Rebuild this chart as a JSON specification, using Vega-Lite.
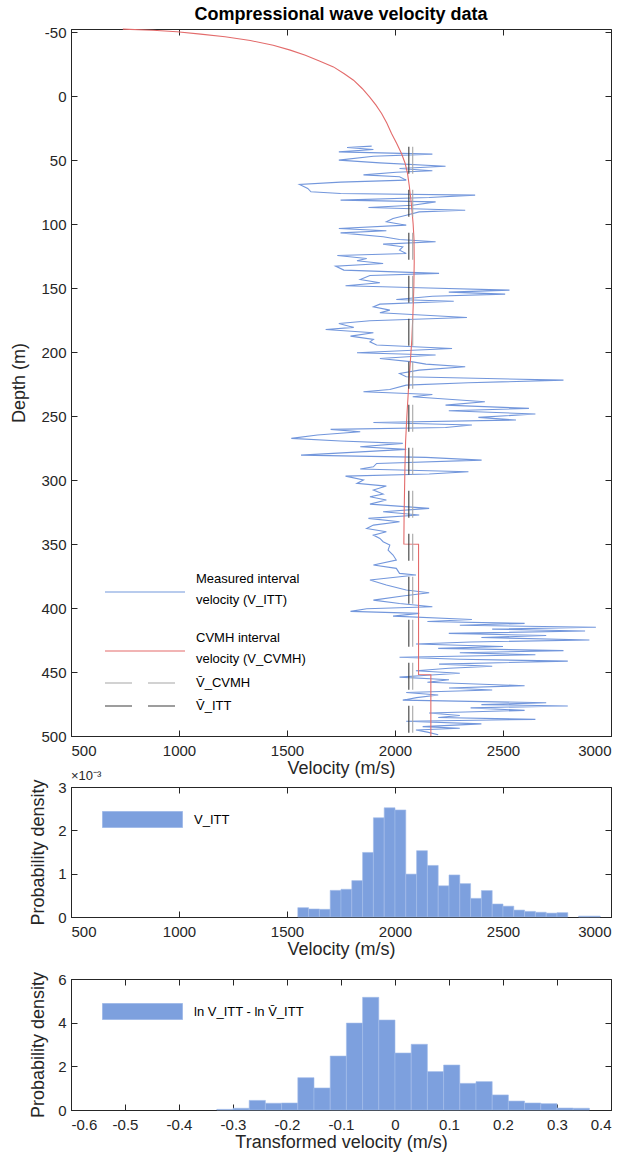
{
  "$schema": "https://vega.github.io/schema/vega-lite/v6.json",
  "padding": {"left": 10, "top": 5, "right": 5, "bottom": 5},
  "background": "white",
  "config": {
    "font": "Liberation Sans",
    "view": {"stroke": "#262626", "strokeWidth": 1},
    "axis": {"grid": false, "domainColor": "#262626", "tickColor": "#262626", "labelColor": "#262626", "titleColor": "#262626", "labelFontSize": 15, "titleFontSize": 18, "titleFontWeight": "normal", "tickSize": -6, "labelFont": "Liberation Sans", "titleFont": "Liberation Sans"},
    "axisX": {"labelPadding": 13, "titlePadding": 1},
    "axisY": {"labelPadding": 11, "titlePadding": 10},
    "legend": {"labelFont": "Liberation Sans", "labelColor": "#000", "labelFontSize": 13, "padding": 0},
    "title": {"font": "Liberation Sans"}
  },
  "datasets": {
    "profile": [
      {"series":"ITT","depth":39.0,"velocity":1892},{"series":"ITT","depth":40.1,"velocity":1778},{"series":"ITT","depth":41.7,"velocity":1900},{"series":"ITT","depth":43.5,"velocity":1740},{"series":"ITT","depth":45.3,"velocity":2173},{"series":"ITT","depth":46.9,"velocity":1900},{"series":"ITT","depth":50.0,"velocity":1740},{"series":"ITT","depth":52.1,"velocity":1930},{"series":"ITT","depth":54.7,"velocity":2234},{"series":"ITT","depth":56.5,"velocity":2021},{"series":"ITT","depth":58.3,"velocity":2173},{"series":"ITT","depth":59.4,"velocity":2006},{"series":"ITT","depth":61.5,"velocity":1854},{"series":"ITT","depth":63.0,"velocity":2021},{"series":"ITT","depth":65.6,"velocity":2052},{"series":"ITT","depth":67.2,"velocity":1748},{"series":"ITT","depth":69.0,"velocity":1558},{"series":"ITT","depth":72.1,"velocity":1596},{"series":"ITT","depth":74.7,"velocity":1611},{"series":"ITT","depth":76.0,"velocity":1748},{"series":"ITT","depth":77.3,"velocity":2371},{"series":"ITT","depth":79.2,"velocity":2158},{"series":"ITT","depth":81.2,"velocity":1748},{"series":"ITT","depth":82.6,"velocity":2188},{"series":"ITT","depth":85.2,"velocity":2082},{"series":"ITT","depth":87.0,"velocity":1877},{"series":"ITT","depth":89.1,"velocity":2325},{"series":"ITT","depth":90.4,"velocity":2112},{"series":"ITT","depth":93.0,"velocity":2052},{"series":"ITT","depth":95.6,"velocity":1991},{"series":"ITT","depth":98.2,"velocity":1960},{"series":"ITT","depth":100.8,"velocity":2052},{"series":"ITT","depth":103.4,"velocity":1740},{"series":"ITT","depth":105.2,"velocity":1960},{"series":"ITT","depth":106.8,"velocity":1748},{"series":"ITT","depth":109.9,"velocity":1945},{"series":"ITT","depth":112.0,"velocity":2021},{"series":"ITT","depth":113.8,"velocity":2188},{"series":"ITT","depth":115.6,"velocity":1945},{"series":"ITT","depth":117.7,"velocity":2036},{"series":"ITT","depth":120.3,"velocity":2021},{"series":"ITT","depth":122.9,"velocity":2052},{"series":"ITT","depth":124.5,"velocity":1733},{"series":"ITT","depth":126.8,"velocity":1869},{"series":"ITT","depth":128.6,"velocity":1824},{"series":"ITT","depth":130.7,"velocity":1945},{"series":"ITT","depth":132.8,"velocity":1725},{"series":"ITT","depth":135.9,"velocity":1763},{"series":"ITT","depth":138.5,"velocity":2204},{"series":"ITT","depth":140.1,"velocity":1884},{"series":"ITT","depth":143.2,"velocity":1839},{"series":"ITT","depth":145.8,"velocity":1930},{"series":"ITT","depth":148.2,"velocity":1771},{"series":"ITT","depth":149.7,"velocity":2112},{"series":"ITT","depth":151.6,"velocity":2530},{"series":"ITT","depth":153.1,"velocity":2249},{"series":"ITT","depth":154.7,"velocity":2510},{"series":"ITT","depth":156.3,"velocity":2173},{"series":"ITT","depth":158.9,"velocity":2006},{"series":"ITT","depth":160.2,"velocity":2272},{"series":"ITT","depth":162.5,"velocity":1930},{"series":"ITT","depth":164.6,"velocity":1900},{"series":"ITT","depth":167.2,"velocity":1976},{"series":"ITT","depth":169.3,"velocity":1930},{"series":"ITT","depth":172.9,"velocity":2333},{"series":"ITT","depth":175.5,"velocity":1884},{"series":"ITT","depth":177.6,"velocity":1740},{"series":"ITT","depth":180.7,"velocity":1809},{"series":"ITT","depth":182.3,"velocity":1679},{"series":"ITT","depth":184.9,"velocity":1900},{"series":"ITT","depth":187.5,"velocity":1794},{"series":"ITT","depth":190.1,"velocity":1900},{"series":"ITT","depth":192.0,"velocity":1884},{"series":"ITT","depth":194.5,"velocity":1915},{"series":"ITT","depth":197.2,"velocity":2264},{"series":"ITT","depth":200.5,"velocity":1824},{"series":"ITT","depth":202.3,"velocity":2188},{"series":"ITT","depth":205.0,"velocity":1930},{"series":"ITT","depth":207.6,"velocity":2082},{"series":"ITT","depth":209.4,"velocity":2143},{"series":"ITT","depth":211.5,"velocity":2325},{"series":"ITT","depth":214.1,"velocity":2112},{"series":"ITT","depth":216.7,"velocity":2021},{"series":"ITT","depth":219.3,"velocity":2052},{"series":"ITT","depth":221.9,"velocity":2780},{"series":"ITT","depth":224.0,"velocity":2340},{"series":"ITT","depth":225.8,"velocity":2052},{"series":"ITT","depth":229.2,"velocity":1976},{"series":"ITT","depth":231.0,"velocity":1854},{"series":"ITT","depth":233.1,"velocity":2173},{"series":"ITT","depth":234.9,"velocity":2082},{"series":"ITT","depth":238.8,"velocity":2416},{"series":"ITT","depth":241.4,"velocity":2234},{"series":"ITT","depth":244.0,"velocity":2620},{"series":"ITT","depth":245.8,"velocity":2249},{"series":"ITT","depth":248.4,"velocity":2650},{"series":"ITT","depth":251.0,"velocity":2386},{"series":"ITT","depth":253.1,"velocity":2560},{"series":"ITT","depth":255.0,"velocity":1900},{"series":"ITT","depth":257.0,"velocity":2356},{"series":"ITT","depth":258.9,"velocity":2234},{"series":"ITT","depth":260.4,"velocity":1702},{"series":"ITT","depth":262.2,"velocity":1839},{"series":"ITT","depth":264.8,"velocity":1641},{"series":"ITT","depth":267.4,"velocity":1520},{"series":"ITT","depth":269.5,"velocity":1748},{"series":"ITT","depth":271.3,"velocity":2036},{"series":"ITT","depth":274.0,"velocity":1839},{"series":"ITT","depth":276.0,"velocity":2052},{"series":"ITT","depth":280.5,"velocity":1565},{"series":"ITT","depth":282.3,"velocity":2143},{"series":"ITT","depth":284.4,"velocity":2401},{"series":"ITT","depth":287.0,"velocity":1915},{"series":"ITT","depth":289.6,"velocity":1900},{"series":"ITT","depth":291.4,"velocity":1839},{"series":"ITT","depth":293.5,"velocity":2340},{"series":"ITT","depth":295.3,"velocity":2158},{"series":"ITT","depth":296.9,"velocity":1771},{"series":"ITT","depth":300.0,"velocity":1854},{"series":"ITT","depth":302.6,"velocity":1824},{"series":"ITT","depth":304.7,"velocity":1960},{"series":"ITT","depth":307.8,"velocity":1900},{"series":"ITT","depth":310.9,"velocity":1945},{"series":"ITT","depth":313.0,"velocity":1884},{"series":"ITT","depth":315.6,"velocity":1960},{"series":"ITT","depth":318.8,"velocity":1884},{"series":"ITT","depth":322.1,"velocity":2158},{"series":"ITT","depth":324.7,"velocity":1945},{"series":"ITT","depth":327.3,"velocity":2112},{"series":"ITT","depth":329.9,"velocity":1877},{"series":"ITT","depth":332.6,"velocity":2021},{"series":"ITT","depth":335.2,"velocity":1900},{"series":"ITT","depth":337.8,"velocity":1869},{"series":"ITT","depth":340.4,"velocity":1960},{"series":"ITT","depth":343.0,"velocity":1900},{"series":"ITT","depth":345.6,"velocity":1930},{"series":"ITT","depth":348.2,"velocity":1945},{"series":"ITT","depth":350.8,"velocity":1976},{"series":"ITT","depth":354.7,"velocity":1968},{"series":"ITT","depth":358.6,"velocity":1991},{"series":"ITT","depth":362.5,"velocity":2006},{"series":"ITT","depth":366.4,"velocity":1900},{"series":"ITT","depth":369.0,"velocity":2006},{"series":"ITT","depth":372.9,"velocity":2021},{"series":"ITT","depth":374.2,"velocity":2097},{"series":"ITT","depth":378.1,"velocity":1884},{"series":"ITT","depth":382.0,"velocity":1960},{"series":"ITT","depth":385.9,"velocity":2052},{"series":"ITT","depth":388.0,"velocity":2158},{"series":"ITT","depth":390.6,"velocity":2036},{"series":"ITT","depth":393.8,"velocity":1900},{"series":"ITT","depth":396.4,"velocity":2021},{"series":"ITT","depth":399.0,"velocity":2173},{"series":"ITT","depth":400.5,"velocity":1869},{"series":"ITT","depth":402.6,"velocity":1794},{"series":"ITT","depth":404.2,"velocity":2112},{"series":"ITT","depth":406.3,"velocity":1991},{"series":"ITT","depth":408.9,"velocity":2356},{"series":"ITT","depth":410.5,"velocity":2150},{"series":"ITT","depth":412.0,"velocity":2600},{"series":"ITT","depth":413.5,"velocity":2300},{"series":"ITT","depth":415.0,"velocity":2930},{"series":"ITT","depth":416.5,"velocity":2450},{"series":"ITT","depth":418.0,"velocity":2880},{"series":"ITT","depth":419.8,"velocity":2249},{"series":"ITT","depth":421.5,"velocity":2700},{"series":"ITT","depth":423.0,"velocity":2400},{"series":"ITT","depth":425.0,"velocity":2900},{"series":"ITT","depth":426.5,"velocity":2350},{"series":"ITT","depth":428.1,"velocity":2097},{"series":"ITT","depth":430.0,"velocity":2500},{"series":"ITT","depth":431.5,"velocity":2200},{"series":"ITT","depth":433.3,"velocity":2780},{"series":"ITT","depth":435.0,"velocity":2300},{"series":"ITT","depth":436.5,"velocity":2650},{"series":"ITT","depth":438.5,"velocity":2021},{"series":"ITT","depth":440.0,"velocity":2300},{"series":"ITT","depth":441.5,"velocity":2800},{"series":"ITT","depth":443.8,"velocity":2204},{"series":"ITT","depth":445.5,"velocity":2450},{"series":"ITT","depth":447.0,"velocity":2250},{"series":"ITT","depth":449.0,"velocity":2097},{"series":"ITT","depth":451.0,"velocity":2300},{"series":"ITT","depth":452.5,"velocity":2150},{"series":"ITT","depth":454.0,"velocity":2021},{"series":"ITT","depth":456.0,"velocity":2250},{"series":"ITT","depth":458.0,"velocity":2150},{"series":"ITT","depth":460.7,"velocity":2600},{"series":"ITT","depth":462.5,"velocity":2250},{"series":"ITT","depth":464.0,"velocity":2450},{"series":"ITT","depth":466.0,"velocity":2052},{"series":"ITT","depth":468.0,"velocity":2200},{"series":"ITT","depth":470.0,"velocity":2100},{"series":"ITT","depth":472.0,"velocity":2036},{"series":"ITT","depth":474.0,"velocity":2700},{"series":"ITT","depth":475.5,"velocity":2400},{"series":"ITT","depth":476.5,"velocity":2800},{"series":"ITT","depth":478.0,"velocity":2350},{"series":"ITT","depth":480.0,"velocity":2600},{"series":"ITT","depth":482.0,"velocity":2158},{"series":"ITT","depth":484.0,"velocity":2300},{"series":"ITT","depth":485.5,"velocity":2200},{"series":"ITT","depth":487.0,"velocity":2650},{"series":"ITT","depth":488.5,"velocity":2052},{"series":"ITT","depth":490.5,"velocity":2400},{"series":"ITT","depth":492.7,"velocity":2128},{"series":"ITT","depth":494.0,"velocity":2300},{"series":"ITT","depth":495.3,"velocity":2097},{"series":"ITT","depth":497.0,"velocity":2150},{"series":"ITT","depth":499.0,"velocity":2200},
      {"series":"CVMH","depth":-52.4,"velocity":740},{"series":"CVMH","depth":-51.5,"velocity":880},{"series":"CVMH","depth":-50.3,"velocity":990},{"series":"CVMH","depth":-48.5,"velocity":1100},{"series":"CVMH","depth":-46.4,"velocity":1213},{"series":"CVMH","depth":-43.5,"velocity":1330},{"series":"CVMH","depth":-39.8,"velocity":1436},{"series":"CVMH","depth":-36.0,"velocity":1515},{"series":"CVMH","depth":-32.0,"velocity":1585},{"series":"CVMH","depth":-27.5,"velocity":1650},{"series":"CVMH","depth":-22.9,"velocity":1715},{"series":"CVMH","depth":-17.5,"velocity":1765},{"series":"CVMH","depth":-12.5,"velocity":1808},{"series":"CVMH","depth":-6.0,"velocity":1848},{"series":"CVMH","depth":0.5,"velocity":1882},{"series":"CVMH","depth":7.0,"velocity":1912},{"series":"CVMH","depth":13.5,"velocity":1938},{"series":"CVMH","depth":21.0,"velocity":1962},{"series":"CVMH","depth":29.2,"velocity":1984},{"series":"CVMH","depth":37.0,"velocity":2008},{"series":"CVMH","depth":44.8,"velocity":2030},{"series":"CVMH","depth":52.0,"velocity":2046},{"series":"CVMH","depth":60.4,"velocity":2058},{"series":"CVMH","depth":70.0,"velocity":2066},{"series":"CVMH","depth":80.0,"velocity":2073},{"series":"CVMH","depth":90.0,"velocity":2079},{"series":"CVMH","depth":100.0,"velocity":2084},{"series":"CVMH","depth":112.0,"velocity":2088},{"series":"CVMH","depth":130.0,"velocity":2089},{"series":"CVMH","depth":150.0,"velocity":2087},{"series":"CVMH","depth":170.0,"velocity":2083},{"series":"CVMH","depth":190.0,"velocity":2078},{"series":"CVMH","depth":210.0,"velocity":2070},{"series":"CVMH","depth":230.0,"velocity":2062},{"series":"CVMH","depth":250.0,"velocity":2055},{"series":"CVMH","depth":270.0,"velocity":2049},{"series":"CVMH","depth":290.0,"velocity":2046},{"series":"CVMH","depth":310.0,"velocity":2044},{"series":"CVMH","depth":330.0,"velocity":2042},{"series":"CVMH","depth":349.9,"velocity":2041},{"series":"CVMH","depth":350.1,"velocity":2109},{"series":"CVMH","depth":451.9,"velocity":2109},{"series":"CVMH","depth":452.1,"velocity":2166},{"series":"CVMH","depth":500.0,"velocity":2166}
    ],
    "means": [
      {"series":"mCVMH","velocity":2082,"top":39.6,"bottom":500},
      {"series":"mITT","velocity":2064,"top":39.6,"bottom":500}
    ],
    "hist1": [
      {"lo":1550,"hi":1600,"density":0.000215},{"lo":1600,"hi":1650,"density":0.000185},{"lo":1650,"hi":1700,"density":0.000177},{"lo":1700,"hi":1750,"density":0.000615},{"lo":1750,"hi":1800,"density":0.00064},{"lo":1800,"hi":1850,"density":0.00084},{"lo":1850,"hi":1900,"density":0.00149},{"lo":1900,"hi":1950,"density":0.00229},{"lo":1950,"hi":2000,"density":0.00252},{"lo":2000,"hi":2050,"density":0.00247},{"lo":2050,"hi":2100,"density":0.00099},{"lo":2100,"hi":2150,"density":0.00153},{"lo":2150,"hi":2200,"density":0.00119},{"lo":2200,"hi":2250,"density":0.00072},{"lo":2250,"hi":2300,"density":0.00097},{"lo":2300,"hi":2350,"density":0.00077},{"lo":2350,"hi":2400,"density":0.00043},{"lo":2400,"hi":2450,"density":0.00061},{"lo":2450,"hi":2500,"density":0.0003},{"lo":2500,"hi":2550,"density":0.00025},{"lo":2550,"hi":2600,"density":0.00016},{"lo":2600,"hi":2650,"density":0.00013},{"lo":2650,"hi":2700,"density":0.00011},{"lo":2700,"hi":2750,"density":0.00009},{"lo":2750,"hi":2800,"density":0.0001},{"lo":2850,"hi":2900,"density":0.00002},{"lo":2900,"hi":2950,"density":0.00002}
    ],
    "hist2": [
      {"lo":-0.33,"hi":-0.30,"density":0.03},{"lo":-0.30,"hi":-0.27,"density":0.08},{"lo":-0.27,"hi":-0.24,"density":0.44},{"lo":-0.24,"hi":-0.21,"density":0.31},{"lo":-0.21,"hi":-0.18,"density":0.32},{"lo":-0.18,"hi":-0.15,"density":1.48},{"lo":-0.15,"hi":-0.12,"density":1.01},{"lo":-0.12,"hi":-0.09,"density":2.47},{"lo":-0.09,"hi":-0.06,"density":3.98},{"lo":-0.06,"hi":-0.03,"density":5.16},{"lo":-0.03,"hi":0.0,"density":4.12},{"lo":0.0,"hi":0.03,"density":2.61},{"lo":0.03,"hi":0.06,"density":3.01},{"lo":0.06,"hi":0.09,"density":1.76},{"lo":0.09,"hi":0.12,"density":2.06},{"lo":0.12,"hi":0.15,"density":1.22},{"lo":0.15,"hi":0.18,"density":1.3},{"lo":0.18,"hi":0.21,"density":0.69},{"lo":0.21,"hi":0.24,"density":0.41},{"lo":0.24,"hi":0.27,"density":0.32},{"lo":0.27,"hi":0.30,"density":0.29},{"lo":0.30,"hi":0.33,"density":0.09},{"lo":0.33,"hi":0.36,"density":0.08}
    ]
  },
  "spacing": 51,
  "bounds": "flush",
  "resolve": {"scale": {"color": "independent", "stroke": "independent", "strokeDash": "independent"}, "legend": {"color": "independent"}},
  "vconcat": [
    {
      "width": 540,
      "height": 707,
      "title": {"text": "Compressional wave velocity data", "fontSize": 18, "fontWeight": "bold", "color": "#000", "offset": 1},
      "layer": [
        {
          "data": {"name": "profile"},
          "mark": {"type": "line", "strokeWidth": 1.1},
          "encoding": {
            "x": {"field": "velocity", "type": "quantitative", "scale": {"domain": [500, 3000], "nice": false, "zero": false}, "axis": {"orient": "bottom", "title": "Velocity (m/s)", "format": "d", "values": [500, 1000, 1500, 2000, 2500, 3000]}},
            "y": {"field": "depth", "type": "quantitative", "scale": {"domain": [-52.5, 500], "reverse": true, "nice": false, "zero": false}, "axis": {"orient": "left", "title": "Depth (m)", "values": [-50, 0, 50, 100, 150, 200, 250, 300, 350, 400, 450, 500], "labelExpr": "toString(datum.value)", "titlePadding": 12}},
            "color": {"field": "series", "type": "nominal", "scale": {"domain": ["ITT", "CVMH"], "range": ["#7397dc", "#e36b6b"]},
              "legend": {"title": null, "orient": "none", "legendX": 33, "legendY": 539, "symbolType": "M-1,1.3L7,1.3", "symbolSize": 400, "symbolStrokeWidth": 1.2, "labelOffset": 70, "rowPadding": 20, "labelLimit": 400, "labelFontSize": 13,
                "labelExpr": "datum.label == 'ITT' ? ['Measured interval', 'velocity (V_ITT)'] : ['CVMH interval', 'velocity (V_CVMH)']",
                "encode": {"labels": {"update": {"lineHeight": {"value": 21}}}}}},
            "order": {"field": "depth"}
          }
        },
        {
          "data": {"name": "means"},
          "mark": {"type": "rule", "strokeWidth": 1.1},
          "encoding": {
            "x": {"field": "velocity", "type": "quantitative", "axis": {"orient": "top", "labels": false, "title": null, "domain": false, "values": [500, 1000, 1500, 2000, 2500, 3000]}},
            "y": {"field": "top", "type": "quantitative", "axis": {"orient": "right", "labels": false, "title": null, "domain": false, "values": [-50, 0, 50, 100, 150, 200, 250, 300, 350, 400, 450, 500]}},
            "y2": {"field": "bottom"},
            "stroke": {"field": "series", "type": "nominal", "scale": {"domain": ["mCVMH", "mITT"], "range": ["#a6a6a6", "#3c3c3c"]},
              "legend": {"title": null, "orient": "none", "legendX": 33, "legendY": 643, "symbolType": "M-1,0L7,0", "symbolSize": 400, "symbolStrokeWidth": 1.2, "labelOffset": 70, "rowPadding": 5, "labelLimit": 400, "labelFontSize": 13,
                "labelExpr": "datum.label == 'mCVMH' ? 'V\u0304_CVMH' : 'V\u0304_ITT'"}},
            "strokeDash": {"field": "series", "type": "nominal", "scale": {"domain": ["mCVMH", "mITT"], "range": [[27, 16], [27, 16]]}}
          }
        }
      ],
      "resolve": {"axis": {"x": "independent", "y": "independent"}}
    },
    {
      "spacing": 62,
      "bounds": "flush",
      "resolve": {"scale": {"color": "independent"}, "legend": {"color": "independent"}},
      "vconcat": [
        {
          "width": 540,
          "height": 130,
          "layer": [
            {
              "data": {"name": "hist1"},
              "mark": {"type": "bar", "stroke": "#a3bce9", "strokeWidth": 0.6},
              "encoding": {
                "x": {"field": "lo", "type": "quantitative", "scale": {"domain": [500, 3000], "nice": false, "zero": false}, "axis": {"orient": "bottom", "title": "Velocity (m/s)", "format": "d", "values": [500, 1000, 1500, 2000, 2500, 3000]}},
                "x2": {"field": "hi"},
                "y": {"field": "density", "type": "quantitative", "scale": {"domain": [0, 0.003], "nice": false}, "axis": {"orient": "left", "title": "Probability density", "values": [0, 0.001, 0.002, 0.003], "labelExpr": "toString(round(datum.value*1000))"}},
                "y2": {"datum": 0},
                "color": {"datum": "V_ITT", "type": "nominal", "scale": {"range": ["#7da0de"]},
                  "legend": {"title": null, "orient": "none", "legendX": 31, "legendY": 22, "symbolType": "M-1,-0.8L7,-0.8L7,0.8L-1,0.8Z", "symbolSize": 400, "symbolOpacity": 1, "symbolStrokeColor": "#a3bce9", "symbolStrokeWidth": 1, "labelOffset": 71, "labelFontSize": 13, "labelLimit": 400}}
              }
            },
            {
              "data": {"values": [{}]},
              "mark": {"type": "text", "text": "×10⁻³", "align": "left", "baseline": "bottom", "dy": -4, "fontSize": 13, "color": "#262626"},
              "encoding": {
                "x": {"datum": 500, "type": "quantitative", "axis": {"orient": "top", "labels": false, "title": null, "domain": false, "values": [500, 1000, 1500, 2000, 2500, 3000]}},
                "y": {"datum": 0.003, "type": "quantitative", "axis": {"orient": "right", "labels": false, "title": null, "domain": false, "values": [0, 0.001, 0.002, 0.003]}}
              }
            }
          ],
          "resolve": {"axis": {"x": "independent", "y": "independent"}}
        },
        {
          "width": 540,
          "height": 131,
          "layer": [
            {
              "data": {"name": "hist2"},
              "mark": {"type": "bar", "stroke": "#a3bce9", "strokeWidth": 0.6},
              "encoding": {
                "x": {"field": "lo", "type": "quantitative", "scale": {"domain": [-0.6, 0.4], "nice": false, "zero": false}, "axis": {"orient": "bottom", "title": "Transformed velocity (m/s)", "values": [-0.6, -0.5, -0.4, -0.3, -0.2, -0.1, 0, 0.1, 0.2, 0.3, 0.4], "labelExpr": "datum.value == 0 ? '0' : toString(round(datum.value*10)/10)"}},
                "x2": {"field": "hi"},
                "y": {"field": "density", "type": "quantitative", "scale": {"domain": [0, 6], "nice": false}, "axis": {"orient": "left", "title": "Probability density", "values": [0, 2, 4, 6]}},
                "y2": {"datum": 0},
                "color": {"datum": "ln V_ITT - ln V\u0304_ITT", "type": "nominal", "scale": {"range": ["#7da0de"]},
                  "legend": {"title": null, "orient": "none", "legendX": 31, "legendY": 22, "symbolType": "M-1,-0.8L7,-0.8L7,0.8L-1,0.8Z", "symbolSize": 400, "symbolOpacity": 1, "symbolStrokeColor": "#a3bce9", "symbolStrokeWidth": 1, "labelOffset": 71, "labelFontSize": 13, "labelLimit": 400}}
              }
            },
            {
              "data": {"values": [{}]},
              "mark": {"type": "text", "text": ""},
              "encoding": {
                "x": {"datum": -0.6, "type": "quantitative", "axis": {"orient": "top", "labels": false, "title": null, "domain": false, "values": [-0.6, -0.5, -0.4, -0.3, -0.2, -0.1, 0, 0.1, 0.2, 0.3, 0.4]}},
                "y": {"datum": 6, "type": "quantitative", "axis": {"orient": "right", "labels": false, "title": null, "domain": false, "values": [0, 2, 4, 6]}}
              }
            }
          ],
          "resolve": {"axis": {"x": "independent", "y": "independent"}}
        }
      ]
    }
  ]
}
